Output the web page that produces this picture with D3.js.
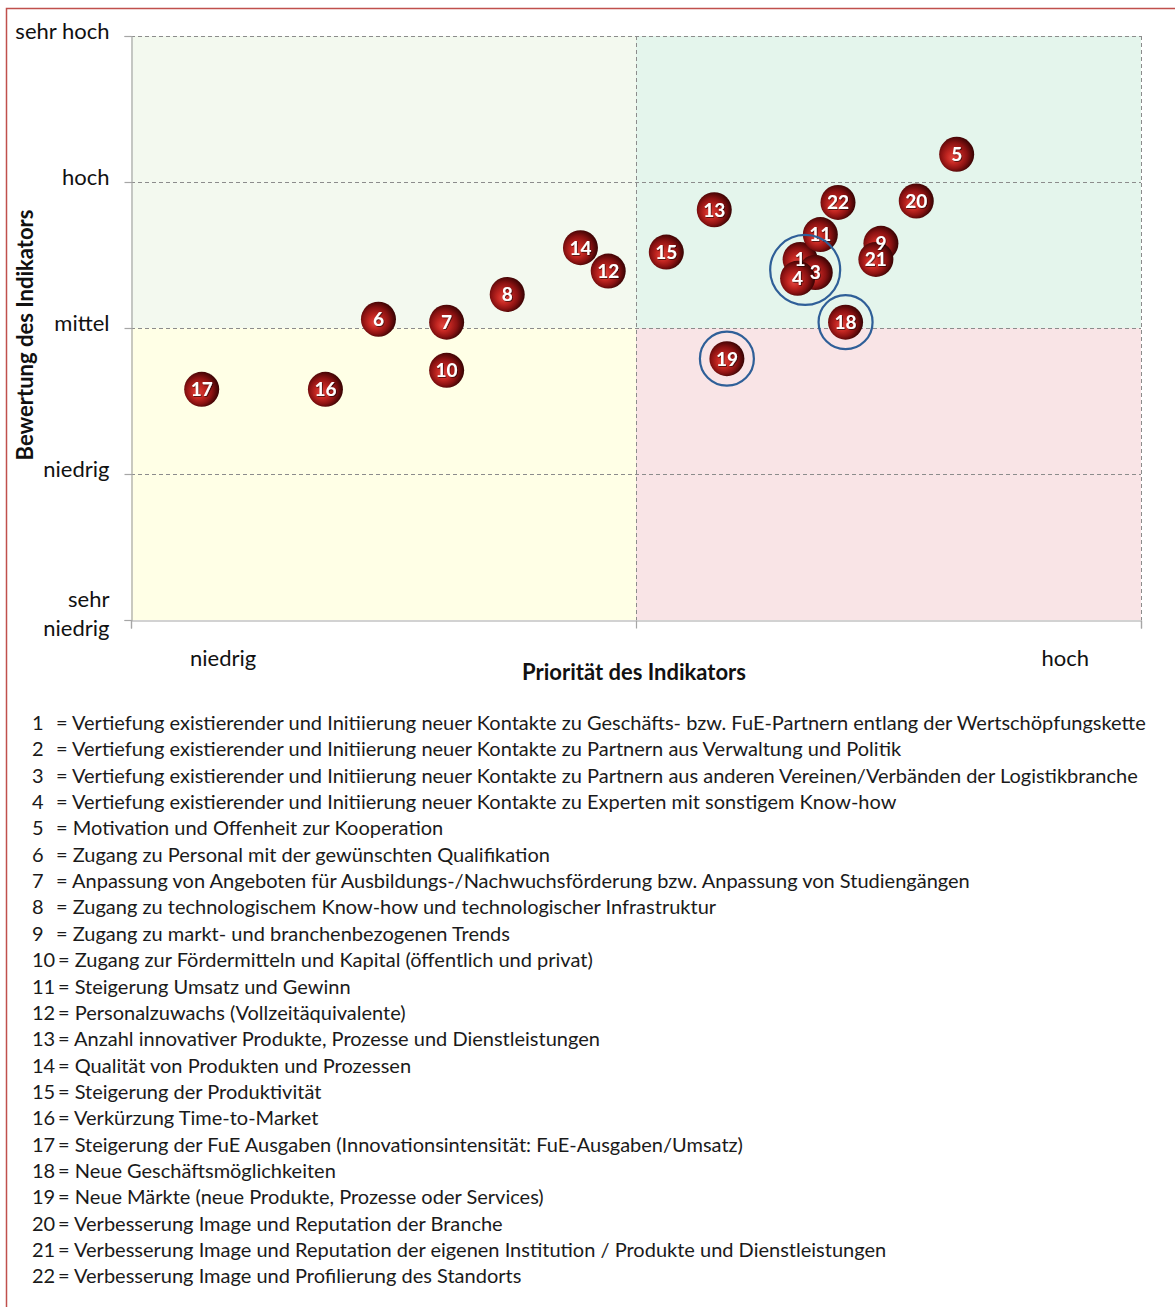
<!DOCTYPE html>
<html lang="de">
<head>
<meta charset="utf-8">
<title>Bewertung und Priorität der Indikatoren</title>
<script src="https://cdn.jsdelivr.net/npm/d3@7"></script>
<style>
  html, body { margin: 0; padding: 0; background: #ffffff; }
  svg { display: block; font-family: Lato, "Open Sans", "DejaVu Sans", sans-serif; }
</style>
</head>
<body>
<script>
// ---- Daten -------------------------------------------------------------
const ratingTicks = [1, 2, 3, 4, 5];
const ratingTickLabels = ["sehr niedrig", "niedrig", "mittel", "hoch", "sehr hoch"];
const priorityTicks = [1, 3, 5];
const priorityEndLabels = ["niedrig", "hoch"];
const priorityEndLabelPos = [1.365, 4.70];

const indicatorIds = [1, 2, 3, 4, 5, 6, 7, 8, 9, 10, 11, 12, 13, 14, 15, 16, 17, 18, 19, 20, 21, 22];
const priority = [3.65, 3.68, 3.71, 3.64, 4.27, 1.98, 2.25, 2.49, 3.97, 2.25, 3.73,
                  2.89, 3.31, 2.78, 3.12, 1.77, 1.28, 3.83, 3.36, 4.11, 3.95, 3.80];
const rating   = [3.47, 3.40, 3.38, 3.34, 4.19, 3.06, 3.04, 3.23, 3.58, 2.71, 3.64,
                  3.39, 3.81, 3.55, 3.52, 2.58, 2.58, 3.04, 2.79, 3.87, 3.47, 3.86];

// Indikatoren, die hinter den übrigen Blasen liegen
const backLayerIds = [2];

// hervorgehobene Gruppen (blaue Kreise)
const highlightGroups = [[1, 2, 3, 4], [18], [19]];

const legendTexts = [
  "Vertiefung existierender und Initiierung neuer Kontakte zu Geschäfts- bzw. FuE-Partnern entlang der Wertschöpfungskette",
  "Vertiefung existierender und Initiierung neuer Kontakte zu Partnern aus Verwaltung und Politik",
  "Vertiefung existierender und Initiierung neuer Kontakte zu Partnern aus anderen Vereinen/Verbänden der Logistikbranche",
  "Vertiefung existierender und Initiierung neuer Kontakte zu Experten mit sonstigem Know-how",
  "Motivation und Offenheit zur Kooperation",
  "Zugang zu Personal mit der gewünschten Qualifikation",
  "Anpassung von Angeboten für Ausbildungs-/Nachwuchsförderung bzw. Anpassung von Studiengängen",
  "Zugang zu technologischem Know-how und technologischer Infrastruktur",
  "Zugang zu markt- und branchenbezogenen Trends",
  "Zugang zur Fördermitteln und Kapital (öffentlich und privat)",
  "Steigerung Umsatz und Gewinn",
  "Personalzuwachs (Vollzeitäquivalente)",
  "Anzahl innovativer Produkte, Prozesse und Dienstleistungen",
  "Qualität von Produkten und Prozessen",
  "Steigerung der Produktivität",
  "Verkürzung Time-to-Market",
  "Steigerung der FuE Ausgaben (Innovationsintensität: FuE-Ausgaben/Umsatz)",
  "Neue Geschäftsmöglichkeiten",
  "Neue Märkte (neue Produkte, Prozesse oder Services)",
  "Verbesserung Image und Reputation der Branche",
  "Verbesserung Image und Reputation der eigenen Institution / Produkte und Dienstleistungen",
  "Verbesserung Image und Profilierung des Standorts"
];

// ---- Aufbau ------------------------------------------------------------
const W = 1175, H = 1307;
const plot = { left: 131, right: 1141, top: 36, bottom: 620 };

const svg = d3.select("body").append("svg")
  .attr("width", W).attr("height", H);

const defs = svg.append("defs");
const grad = defs.append("radialGradient")
  .attr("id", "ball").attr("cx", "45%").attr("cy", "50%").attr("r", "60%")
  .attr("fx", "38%").attr("fy", "62%");
[["0%", "#e0463f"], ["30%", "#c42722"], ["62%", "#8c1212"], ["85%", "#4a0606"], ["100%", "#240202"]]
  .forEach(([o, c]) => grad.append("stop").attr("offset", o).attr("stop-color", c));

const shadow = defs.append("filter").attr("id", "txtShadow")
  .attr("x", "-30%").attr("y", "-30%").attr("width", "160%").attr("height", "160%");
shadow.append("feDropShadow").attr("dx", 0.8).attr("dy", 0.8).attr("stdDeviation", 0.6)
  .attr("flood-color", "#000").attr("flood-opacity", 0.7);

// Rahmen
svg.append("rect")
  .attr("x", 6.5).attr("y", 8.5).attr("width", W + 20).attr("height", H + 20)
  .attr("fill", "none").attr("stroke", "#c0504d").attr("stroke-width", 1.5);

const x = d3.scaleLinear().domain([1, 5]).range([plot.left, plot.right]);
const y = d3.scaleLinear().domain([1, 5]).range([plot.bottom, plot.top]);

// Quadranten
const quadrants = [
  { x0: 1, x1: 3, y0: 3, y1: 5, fill: "#f3f9ef" },
  { x0: 3, x1: 5, y0: 3, y1: 5, fill: "#e4f5ec" },
  { x0: 1, x1: 3, y0: 1, y1: 3, fill: "#ffffe6" },
  { x0: 3, x1: 5, y0: 1, y1: 3, fill: "#f9e4e6" }
];
svg.append("g").selectAll("rect").data(quadrants).join("rect")
  .attr("x", d => x(d.x0)).attr("y", d => y(d.y1))
  .attr("width", d => x(d.x1) - x(d.x0)).attr("height", d => y(d.y0) - y(d.y1))
  .attr("fill", d => d.fill);

// Gitternetz
const grid = svg.append("g").attr("stroke", "#8c8c8c").attr("stroke-width", 1)
  .attr("stroke-dasharray", "4,3");
grid.selectAll("line.h").data(ratingTicks.slice(1)).join("line")
  .attr("x1", plot.left).attr("x2", plot.right)
  .attr("y1", d => Math.round(y(d)) + 0.5).attr("y2", d => Math.round(y(d)) + 0.5);
grid.selectAll("line.v").data(priorityTicks.slice(1)).join("line")
  .attr("y1", plot.top).attr("y2", plot.bottom)
  .attr("x1", d => Math.round(x(d)) + 0.5).attr("x2", d => Math.round(x(d)) + 0.5);

// Achsen
const yAxis = svg.append("g").attr("transform", `translate(${plot.left + 0.5},0)`)
  .call(d3.axisLeft(y).tickValues(ratingTicks).tickSize(7).tickPadding(15)
    .tickFormat((d, i) => ratingTickLabels[i]));
const xAxis = svg.append("g").attr("transform", `translate(0,${plot.bottom + 0.5})`)
  .call(d3.axisBottom(x).tickValues(priorityTicks).tickSize(8).tickFormat(""));
[yAxis, xAxis].forEach(a => {
  a.selectAll("path.domain, line").attr("stroke", "#a6a6a6").attr("stroke-width", 1.2);
});
yAxis.selectAll("text")
  .attr("font-size", 22).attr("fill", "#111").attr("font-family", "Lato, sans-serif")
  .each(function (d, i) {
    const t = d3.select(this);
    const words = ratingTickLabels[i].split(" ");
    if (i === 0) {
      t.text(null).attr("dy", null);
      t.append("tspan").attr("x", -22).attr("y", -21).attr("dy", "0.32em").text(words[0]);
      t.append("tspan").attr("x", -22).attr("y", 8).attr("dy", "0.32em").text(words[1]);
    } else {
      t.attr("y", -5);
    }
  });

// Beschriftung der Prioritätsachse
svg.append("g").selectAll("text").data(priorityEndLabels).join("text")
  .attr("x", (d, i) => x(priorityEndLabelPos[i])).attr("y", 666)
  .attr("text-anchor", "middle").attr("font-size", 22).attr("fill", "#111")
  .text(d => d);

svg.append("text")
  .attr("x", x(3) - 2).attr("y", 680).attr("text-anchor", "middle")
  .attr("font-size", 22).attr("font-weight", "bold").attr("fill", "#111")
  .text("Priorität des Indikators");

svg.append("text")
  .attr("transform", `translate(33,${y(3) + 7}) rotate(-90)`)
  .attr("text-anchor", "middle").attr("font-size", 22).attr("font-weight", "bold").attr("fill", "#111")
  .text("Bewertung des Indikators");

// Blasen mit Nummern
const points = indicatorIds.map((id, i) => ({ id, px: priority[i], ry: rating[i] }));
const backPoints = points.filter(p => backLayerIds.includes(p.id));
const frontPoints = points.filter(p => !backLayerIds.includes(p.id));
const R = 17.5;

function addBubble(sel) {
  sel.append("circle")
    .attr("cx", d => x(d.px)).attr("cy", d => y(d.ry))
    .attr("r", R).attr("fill", "url(#ball)");
}
function addLabel(sel) {
  sel.append("text")
    .attr("x", d => x(d.px)).attr("y", d => y(d.ry))
    .attr("text-anchor", "middle").attr("dy", "0.36em")
    .attr("font-size", 19).attr("font-weight", "bold").attr("fill", "#ffffff")
    .attr("filter", "url(#txtShadow)")
    .text(d => d.id);
}

// hintere Ebene: Blase und Nummer zusammen
const back = svg.append("g").selectAll("g").data(backPoints).join("g");
back.call(addBubble).call(addLabel);
// vordere Ebene: zuerst alle Blasen, dann alle Nummern
svg.append("g").selectAll("g").data(frontPoints).join("g").call(addBubble);
svg.append("g").selectAll("g").data(frontPoints).join("g").call(addLabel);

// blaue Markierungskreise
const highlightRadius = [35, 27, 27];
svg.append("g").selectAll("circle").data(highlightGroups).join("circle")
  .attr("cx", g => d3.mean(g, id => x(priority[id - 1])))
  .attr("cy", g => d3.mean(g, id => y(rating[id - 1])))
  .attr("r", (g, i) => highlightRadius[i])
  .attr("fill", "none").attr("stroke", "#2f5f98").attr("stroke-width", 2.2);

// Legende
const legend = svg.append("g").attr("font-size", 20).attr("fill", "#1a1a1a");
const rowH = 26.35;
const rows = legend.selectAll("g").data(legendTexts).join("g")
  .attr("transform", (d, i) => `translate(0,${723 + i * rowH})`);
rows.append("text").attr("x", 32).attr("dy", "0.35em")
  .text((d, i) => indicatorIds[i]);
rows.append("text").attr("x", (d, i) => indicatorIds[i] < 10 ? 56 : 58).attr("dy", "0.35em")
  .text(d => "= " + d);
</script>
</body>
</html>
